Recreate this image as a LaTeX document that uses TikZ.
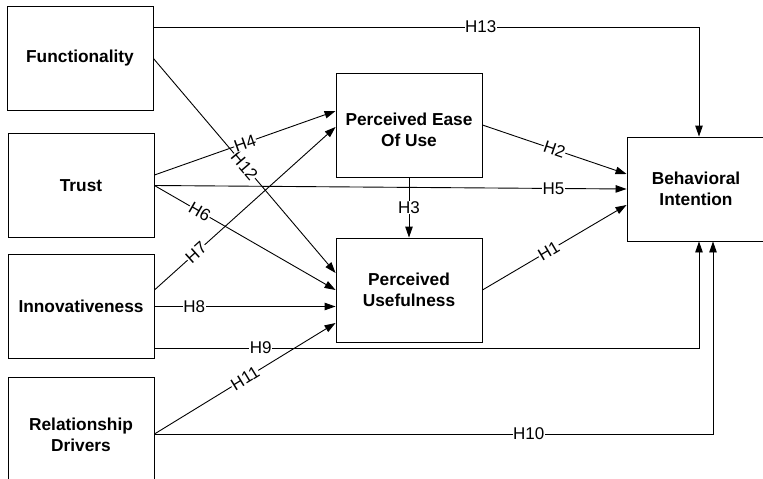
\documentclass[tikz,border=0pt]{standalone}
\usepackage{fontspec}
\setmainfont{Liberation Sans}
\usepackage{tikz}
\usetikzlibrary{arrows.meta}

\begin{document}
\begin{tikzpicture}[x=1pt,y=-1pt,
    construct/.style={draw,line width=0.9pt,minimum width=146pt,minimum height=104pt,
        align=center,inner sep=0pt,font=\fontsize{17.3}{21}\selectfont\bfseries},
    hyp/.style={line width=0.9pt,-{Triangle[length=11pt,width=7.5pt]}},
    hlabel/.style={fill=white,inner sep=0.5pt,font=\fontsize{17}{17}\selectfont}]
    \useasboundingbox (0,0) rectangle (763,479);
    \clip (0,0) rectangle (763,479);
    % constructs
    \node[construct] (func) at (80,58.5) {Functionality};
    \node[construct] (trust) at (81,185.5) {Trust};
    \node[construct] (inno) at (81,306.5) {Innovativeness};
    \node[construct,minimum height=116pt] (rel) at (81,435) {Relationship\\Drivers};
    \node[construct] (peou) at (409,125) {\rule{0pt}{23pt}Perceived Ease\\Of Use};
    \node[construct] (pu) at (409,290) {Perceived\\Usefulness};
    \node[construct,minimum width=138pt] (bi) at (696,189) {Behavioral\\Intention};
    % hypotheses
    \draw[hyp] (func.east |- 0,27) -- node[hlabel,pos=0.6] {H13} (699,27) -- (bi.north -| 699,0);
    \draw[hyp] (func.east) -- node[hlabel,sloped] {H12} (pu.west |- 0,273);
    \draw[hyp] (trust.east |- 0,175) -- node[hlabel,sloped] {H4} (peou.west |- 0,111);
    \draw[hyp] (trust.east) -- node[hlabel,pos=0.845] {H5} (bi.west);
    \draw[hyp] (trust.east) -- node[hlabel,sloped,pos=0.25] {H6} (pu.west);
    \draw[hyp] (inno.east |- 0,290) -- node[hlabel,sloped,pos=0.23] {H7} (peou.west |- 0,127);
    \draw[hyp] (inno.east) -- node[hlabel,pos=0.22] {H8} (pu.west |- 0,306.5);
    \draw[hyp] (inno.east |- 0,348) -- node[hlabel,pos=0.195] {H9} (699,348) -- (bi.south -| 699,0);
    \draw[hyp] (rel.east |- 0,434) -- node[hlabel,pos=0.67] {H10} (713,434) -- (bi.south -| 713,0);
    \draw[hyp] (rel.east |- 0,434) -- node[hlabel,sloped] {H11} (pu.west |- 0,323);
    \draw[hyp] (peou.east) -- node[hlabel,sloped] {H2} (bi.west |- 0,174);
    \draw[hyp] (peou.south) -- node[hlabel] {H3} (pu.north);
    \draw[hyp] (pu.east) -- node[hlabel,sloped,pos=0.46] {H1} (bi.west |- 0,205);
\end{tikzpicture}
\end{document}
